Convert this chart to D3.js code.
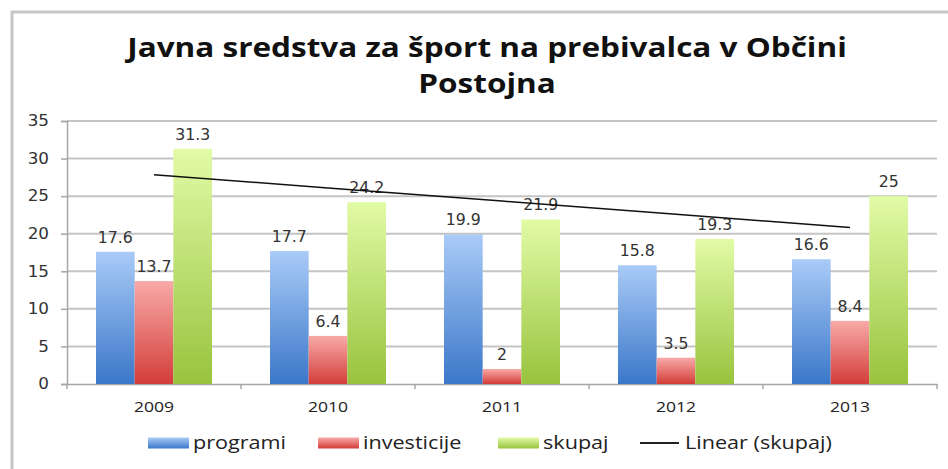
<!DOCTYPE html>
<html>
<head>
<meta charset="utf-8">
<script src="https://cdn.jsdelivr.net/npm/d3@7"></script>
<style>
  body { margin: 0; background: #fff; }
  svg { display: block; }
</style>
</head>
<body>
<div id="chart"></div>
<script>
// data
const years = ["2009", "2010", "2011", "2012", "2013"]
const programi = [17.6, 17.7, 19.9, 15.8, 16.6]
const investicije = [13.7, 6.4, 2, 3.5, 8.4]
const skupaj = [31.3, 24.2, 21.9, 19.3, 25]
const seriesNames = ["programi", "investicije", "skupaj"]
const trendName = "Linear (skupaj)"
const yTicks = [0, 5, 10, 15, 20, 25, 30, 35]

const width = 948, height = 469
const margin = {top: 121, right: 11, bottom: 85, left: 67}
const innerW = width - margin.left - margin.right
const innerH = height - margin.top - margin.bottom

// the reference text is a bit wider than our fonts, so stretch it around its anchor
function stretch(sel, sx) {
  sel.attr("transform", function() {
    const x0 = +this.getAttribute("x") || 0
    return `translate(${x0 * (1 - sx)}, 0) scale(${sx}, 1)`
  })
}

const svg = d3.select("#chart").append("svg")
  .attr("width", width)
  .attr("height", height)

// gradients for the bars
const grads = [
  {id: "gBlue", top: "#a9cbf7", bottom: "#3b77c9"},
  {id: "gRed", top: "#f8aaa8", bottom: "#d33d39"},
  {id: "gGreen", top: "#e2fba6", bottom: "#98c33e"}
]
const defs = svg.append("defs")
grads.forEach(g => {
  const lg = defs.append("linearGradient")
    .attr("id", g.id).attr("x1", 0).attr("y1", 0).attr("x2", 0).attr("y2", 1)
  lg.append("stop").attr("offset", "0%").attr("stop-color", g.top)
  lg.append("stop").attr("offset", "100%").attr("stop-color", g.bottom)
})

// outer frame
svg.append("rect")
  .attr("x", 12).attr("y", 12)
  .attr("width", width + 20).attr("height", height + 20)
  .attr("fill", "none")
  .attr("stroke", "#c6c6c6")
  .attr("stroke-width", 3)

// title
const title = svg.append("text")
  .attr("x", 487)
  .attr("text-anchor", "middle")
  .style("font-family", "'Open Sans', sans-serif")
  .style("font-weight", "bold")
  .style("font-size", "27px")
  .attr("fill", "#111")
const t1 = title.append("tspan").attr("x", 487).attr("y", 57).text("Javna sredstva za šport na prebivalca v Občini")
title.append("tspan").attr("x", 487).attr("y", 93).text("Postojna")
stretch(title, 720 / t1.node().getComputedTextLength())

const g = svg.append("g")
  .attr("transform", `translate(${margin.left}, ${margin.top})`)

const x = d3.scaleBand()
  .domain(years)
  .range([0, innerW])

const y = d3.scaleLinear()
  .domain([0, 35])
  .range([innerH, 0])

// gridlines
g.append("g")
  .selectAll("line")
  .data(yTicks.filter(d => d > 0))
  .join("line")
    .attr("x1", 0).attr("x2", innerW)
    .attr("y1", d => y(d)).attr("y2", d => y(d))
    .attr("stroke", "#c4c4c4")
    .attr("stroke-width", 2)

// y axis
const yAxis = g.append("g")
  .call(d3.axisLeft(y).tickValues(yTicks).tickSize(6).tickPadding(12))
yAxis.select(".domain").attr("stroke", "#a6a6a6").attr("stroke-width", 1.5)
yAxis.selectAll(".tick line").attr("stroke", "#a6a6a6").attr("stroke-width", 1.5)
yAxis.selectAll("text")
  .style("font-family", "'DejaVu Sans', sans-serif")
  .style("font-size", "15px")
  .attr("fill", "#333")
  .call(stretch, 1.12)

// x axis
const xAxis = g.append("g")
  .attr("transform", `translate(0, ${innerH})`)
  .call(d3.axisBottom(x).tickSize(0).tickPadding(17))
xAxis.select(".domain").attr("stroke", "#a6a6a6").attr("stroke-width", 1.5)
xAxis.selectAll("text")
  .style("font-family", "'Open Sans', sans-serif")
  .style("font-size", "15px")
  .attr("fill", "#222")
  .call(stretch, 1.17)
// category boundary ticks
xAxis.selectAll(".bound")
  .data(years.concat(["end"]))
  .join("line")
    .attr("class", "bound")
    .attr("x1", (d, i) => i * x.step()).attr("x2", (d, i) => i * x.step())
    .attr("y1", 0).attr("y2", 5)
    .attr("stroke", "#a6a6a6")
    .attr("stroke-width", 1.5)

// bars: gap width 150% of a bar
const barW = x.bandwidth() / 4.5
const series = [programi, investicije, skupaj]
const inner = d3.scaleBand()
  .domain(seriesNames)
  .range([barW * 0.75, barW * 3.75])

const rows = years.map((yr, i) => seriesNames.map((s, j) => ({year: yr, series: s, value: series[j][i], gi: j})))

const groups = g.append("g")
  .selectAll("g")
  .data(rows)
  .join("g")
    .attr("transform", (d, i) => `translate(${x(years[i])}, 0)`)

groups.selectAll("rect")
  .data(d => d)
  .join("rect")
    .attr("x", d => inner(d.series))
    .attr("y", d => y(d.value))
    .attr("width", inner.bandwidth())
    .attr("height", d => innerH - y(d.value))
    .attr("fill", d => `url(#${grads[d.gi].id})`)

groups.selectAll("text")
  .data(d => d)
  .join("text")
    .attr("x", d => inner(d.series) + inner.bandwidth() / 2)
    .attr("y", d => y(d.value) - 9)
    .attr("text-anchor", "middle")
    .style("font-family", "'DejaVu Sans', sans-serif")
    .style("font-size", "15px")
    .attr("fill", "#333")
    .text(d => d.value)
    .call(stretch, 1.05)

// linear trendline of skupaj
const xs = skupaj.map((d, i) => i + 1)
const mx = d3.mean(xs), my = d3.mean(skupaj)
const slope = d3.sum(xs.map((xv, i) => (xv - mx) * (skupaj[i] - my))) / d3.sum(xs.map(xv => (xv - mx) ** 2))
const icpt = my - slope * mx
const trend = years.map((yr, i) => ({year: yr, v: icpt + slope * (i + 1)}))

g.append("path")
  .datum(trend)
  .attr("fill", "none")
  .attr("stroke", "#111")
  .attr("stroke-width", 1.5)
  .attr("d", d3.line()
    .x(d => x(d.year) + x.bandwidth() / 2)
    .y(d => y(d.v)))

// legend
const legendItems = [
  {name: seriesNames[0], type: "rect", fill: "url(#gBlue)", x: 148},
  {name: seriesNames[1], type: "rect", fill: "url(#gRed)", x: 318},
  {name: seriesNames[2], type: "rect", fill: "url(#gGreen)", x: 498},
  {name: trendName, type: "line", x: 640}
]
const legend = svg.append("g")
const li = legend.selectAll("g")
  .data(legendItems)
  .join("g")
    .attr("transform", d => `translate(${d.x}, 443)`)

li.filter(d => d.type === "rect").append("rect")
  .attr("x", 0).attr("y", -5.5)
  .attr("width", 41).attr("height", 11)
  .attr("fill", d => d.fill)
li.filter(d => d.type === "line").append("line")
  .attr("x1", 0).attr("x2", 39)
  .attr("y1", 0).attr("y2", 0)
  .attr("stroke", "#222").attr("stroke-width", 2)
li.append("text")
  .attr("x", 45)
  .attr("y", 0)
  .attr("dy", "0.36em")
  .style("font-family", "'Open Sans', sans-serif")
  .style("font-size", "18px")
  .attr("fill", "#222")
  .text(d => d.name)
  .call(stretch, 1.2)
</script>
</body>
</html>
